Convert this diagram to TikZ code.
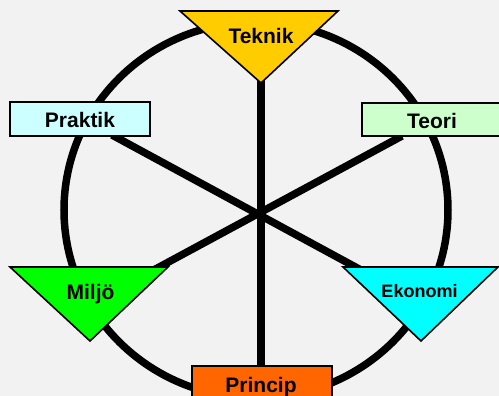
\documentclass[tikz,border=0pt]{standalone}
\usepackage{fontspec}
\setmainfont{Liberation Sans}
\definecolor{bgc}{HTML}{F2F2F2}
\definecolor{teknikc}{HTML}{FFCC00}
\definecolor{praktikc}{HTML}{CCFFFF}
\definecolor{teoric}{HTML}{CCFFCC}
\definecolor{miljoc}{HTML}{00FF00}
\definecolor{ekonomic}{HTML}{00FFFF}
\definecolor{principc}{HTML}{FF6600}
\begin{document}
\begin{tikzpicture}[x=1pt,y=-1pt,
  spoke/.style={line width=7.5pt},
  tri/.style={draw=black,line width=1.6pt,line join=miter},
  boxc/.style={draw=black,line width=2pt},
  lbl/.style={font=\fontsize{21}{25}\selectfont\bfseries, inner sep=0pt, anchor=base},
  lbls/.style={font=\fontsize{18}{22}\selectfont\bfseries, inner sep=0pt, anchor=base}]
\useasboundingbox (0,0) rectangle (499,396);
\clip (0,0) rectangle (499,396);
\fill[bgc] (0,0) rectangle (499,396);
% ring
\draw[spoke] (256,210) ellipse [x radius=192, y radius=188];
% spoke ends
\coordinate (top) at (261,80);
\coordinate (bot) at (261,370);
\coordinate (pk) at (112,135);
\coordinate (ek) at (420,302);
\coordinate (te) at (402,136);
\coordinate (mi) at (100,299);
\draw[spoke] (top) -- (bot);
\draw[spoke] (pk) -- (ek);
\draw[spoke] (te) -- (mi);
% Teknik
\filldraw[tri, fill=teknikc] (180,11) -- (338,11) -- (261,83) -- cycle;
\node[lbl] (teknik) at (261,44) {Teknik};
% Praktik
\filldraw[boxc, fill=praktikc] (10,102) rectangle (150,136);
\node[lbl] (praktik) at (80,128) {Praktik};
% Teori
\filldraw[boxc, fill=teoric] (362,103) rectangle (505,136);
\node[lbl] (teori) at (432,128.5) {Teori};
% Miljo
\filldraw[tri, fill=miljoc] (10,267) -- (168,267) -- (90,341) -- cycle;
\node[lbl] (miljo) at (90.5,299.5) {Miljö};
% Ekonomi
\filldraw[tri, fill=ekonomic] (343,267) -- (498,267) -- (421,341) -- cycle;
\node[lbls] (ekonomi) at (419.5,298) {Ekonomi};
% Princip
\filldraw[boxc, fill=principc] (192,366) rectangle (332,405);
\node[lbl] (princip) at (261,392) {Princip};
\end{tikzpicture}
\end{document}
